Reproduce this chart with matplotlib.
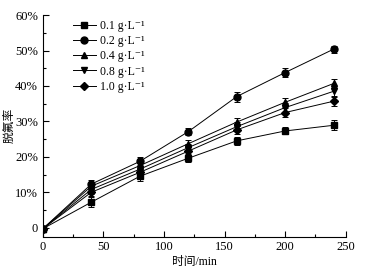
# Imports
import numpy as np
import matplotlib
matplotlib.use("Agg")
import matplotlib.pyplot as plt
from matplotlib.ticker import MultipleLocator, FuncFormatter

plt.rcParams['font.family'] = ['Liberation Serif', 'DejaVu Serif', 'Noto Sans CJK SC']

# Data
t = [0, 40, 80, 120, 160, 200, 240]
labels = ['0.1 g·L⁻¹', '0.2 g·L⁻¹', '0.4 g·L⁻¹', '0.8 g·L⁻¹', '1.0 g·L⁻¹']
c01 = [-0.3, 7.2, 14.5, 19.6, 24.5, 27.3, 28.9]
c02 = [-0.3, 12.3, 18.7, 27.1, 37.0, 43.8, 50.4]
c04 = [-0.3, 11.7, 17.5, 23.7, 29.8, 35.4, 40.7]
c08 = [-0.3, 10.8, 16.5, 22.6, 28.5, 33.9, 38.5]
c10 = [-0.3, 10.0, 15.6, 21.6, 27.6, 32.5, 35.7]
err01 = [0.4, 1.5, 1.2, 1.2, 1.2, 1.0, 1.4]
err02 = [0.4, 1.2, 1.2, 1.0, 1.4, 1.2, 1.0]
err04 = [0.4, 1.2, 1.2, 1.1, 1.2, 1.2, 1.3]
err08 = [0.4, 1.2, 1.2, 1.1, 1.2, 1.2, 1.3]
err10 = [0.4, 1.2, 1.2, 1.1, 1.2, 1.2, 1.3]

series = [c01, c02, c04, c08, c10]
errs = [err01, err02, err04, err08, err10]
markers = ['s', 'o', '^', 'v', 'D']
msizes = [4.5, 5, 5, 5, 4.2]

fig = plt.figure(figsize=(3.73, 2.75), dpi=100)
ax = fig.add_axes([0.115, 0.14, 0.812, 0.805])

handles = []
for y, e, m, ms, lab in zip(series, errs, markers, msizes, labels):
  cont = ax.errorbar(t, y, yerr=e, color='k', marker=m, markersize=ms, lw=0.7,
                     elinewidth=0.7, capsize=2, capthick=0.7, label=lab)
  handles.append(cont[0])

ax.set_xlim(0, 250)
ax.set_ylim(-2.5, 60)
ax.xaxis.set_major_locator(MultipleLocator(50))
ax.xaxis.set_minor_locator(MultipleLocator(25))
ax.yaxis.set_major_locator(MultipleLocator(10))
ax.yaxis.set_minor_locator(MultipleLocator(5))
ax.yaxis.set_major_formatter(FuncFormatter(lambda v, p: '0' if v == 0 else f'{v:.0f}%'))
ax.tick_params(which='both', direction='in', labelsize=9, width=0.8)
ax.tick_params(which='major', length=4)
ax.tick_params(which='minor', length=2.5)
ax.spines['top'].set_visible(False)
ax.spines['right'].set_visible(False)

ax.set_xlabel('时间/min', fontsize=8.5, labelpad=2)
ax.set_ylabel('脱氟率', fontsize=8.5, labelpad=0)

ax.legend(handles=handles, labels=labels, loc='upper left',
          bbox_to_anchor=(0.075, 1.01), frameon=False, fontsize=8.5,
          handlelength=2.0, handletextpad=0.3, labelspacing=0.27,
          borderaxespad=0.2)

fig.savefig('out.png', dpi=100)
